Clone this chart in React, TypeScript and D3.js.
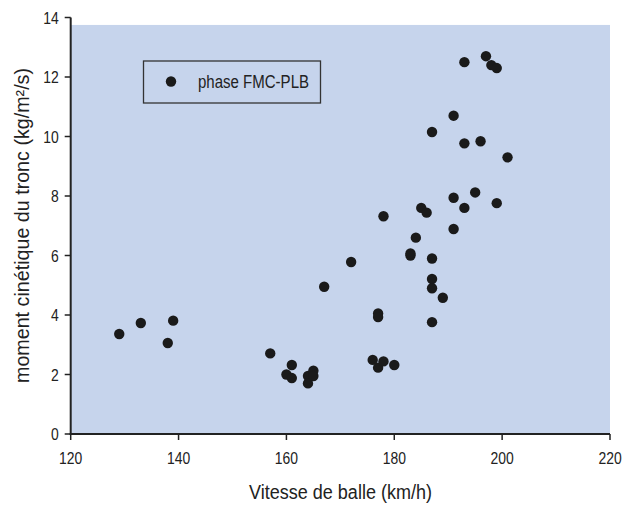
import React from "react";
import * as d3 from "d3";

const speeds = [129, 133, 138, 139, 157, 160, 161, 161, 164, 164, 165, 165, 167, 172, 176, 177, 177, 177, 178, 178, 180, 183, 183, 184, 185, 186, 187, 187, 187, 187, 187, 189, 191, 191, 191, 193, 193, 193, 195, 196, 197, 198, 199, 199, 201];
const moments = [3.36, 3.73, 3.06, 3.81, 2.71, 2.0, 2.32, 1.88, 1.95, 1.7, 2.13, 1.95, 4.95, 5.78, 2.49, 2.23, 4.05, 3.93, 2.44, 7.32, 2.32, 6.0, 6.07, 6.6, 7.6, 7.44, 10.15, 5.9, 5.21, 4.9, 3.76, 4.58, 10.7, 7.94, 6.89, 12.5, 9.77, 7.6, 8.12, 9.84, 12.7, 12.4, 12.3, 7.76, 9.3];
const xTicks = [120, 140, 160, 180, 200, 220];
const yTicks = [0, 2, 4, 6, 8, 10, 12, 14];
const seriesName = "phase FMC-PLB";
const xTitle = "Vitesse de balle (km/h)";
const yTitle = "moment cinétique du tronc (kg/m²/s)";

export default function App() {
  const W = 622, H = 505;
  const x = d3.scaleLinear().domain([120, 220]).range([70.7, 610]);
  const y = d3.scaleLinear().domain([0, 14]).range([434, 17.5]);
  const font = "'Liberation Sans', Arial, Helvetica, sans-serif";
  const txt = "#222";
  const pts = speeds.map((s, i) => ({ s, m: moments[i] }));
  return (
    <svg width={W} height={H} style={{ position: "absolute", left: 0, top: 0 }} fontFamily={font}>
      <rect x={0} y={0} width={W} height={H} fill="#fff" />
      <rect x={x(120)} y={y(13.75)} width={x(220) - x(120)} height={y(0) - y(13.75)} fill="#C6D4EC" />
      {/* legend */}
      <rect x={143.5} y={61} width={177} height={42} fill="none" stroke="#333" strokeWidth={1.3} />
      <circle cx={171} cy={81.5} r={5.2} fill="#1a1a1a" />
      <text x={198} y={88} fontSize={17.5} fill={txt} textLength={111} lengthAdjust="spacingAndGlyphs">{seriesName}</text>
      {/* points */}
      {pts.map((p, i) => (
        <circle key={i} cx={x(p.s)} cy={y(p.m)} r={5.2} fill="#1a1a1a" />
      ))}
      {/* axes */}
      <line x1={x(120)} x2={x(120)} y1={y(0) + 1} y2={y(14)} stroke="#222" strokeWidth={2} />
      <line x1={x(120) - 1} x2={x(220)} y1={y(0)} y2={y(0)} stroke="#222" strokeWidth={2} />
      {yTicks.map((t) => (
        <g key={"y" + t}>
          <line x1={x(120) - 6} x2={x(120)} y1={y(t)} y2={y(t)} stroke="#222" strokeWidth={1.5} />
          <text transform={`translate(${x(120) - 12},${y(t) + 6}) scale(0.82,1)`} textAnchor="end" fontSize={17} fill={txt}>{t}</text>
        </g>
      ))}
      {xTicks.map((t) => (
        <g key={"x" + t}>
          <line x1={x(t)} x2={x(t)} y1={y(0)} y2={y(0) + 6} stroke="#222" strokeWidth={1.5} />
          <text transform={`translate(${x(t)},${464}) scale(0.82,1)`} textAnchor="middle" fontSize={17} fill={txt}>{t}</text>
        </g>
      ))}
      <text x={340.5} y={499} textAnchor="middle" fontSize={19.5} fill={txt} textLength={183} lengthAdjust="spacingAndGlyphs">{xTitle}</text>
      <text transform={`translate(29,225.5) rotate(-90)`} textAnchor="middle" fontSize={19.5} fill={txt} textLength={315} lengthAdjust="spacingAndGlyphs">{yTitle}</text>
    </svg>
  );
}
